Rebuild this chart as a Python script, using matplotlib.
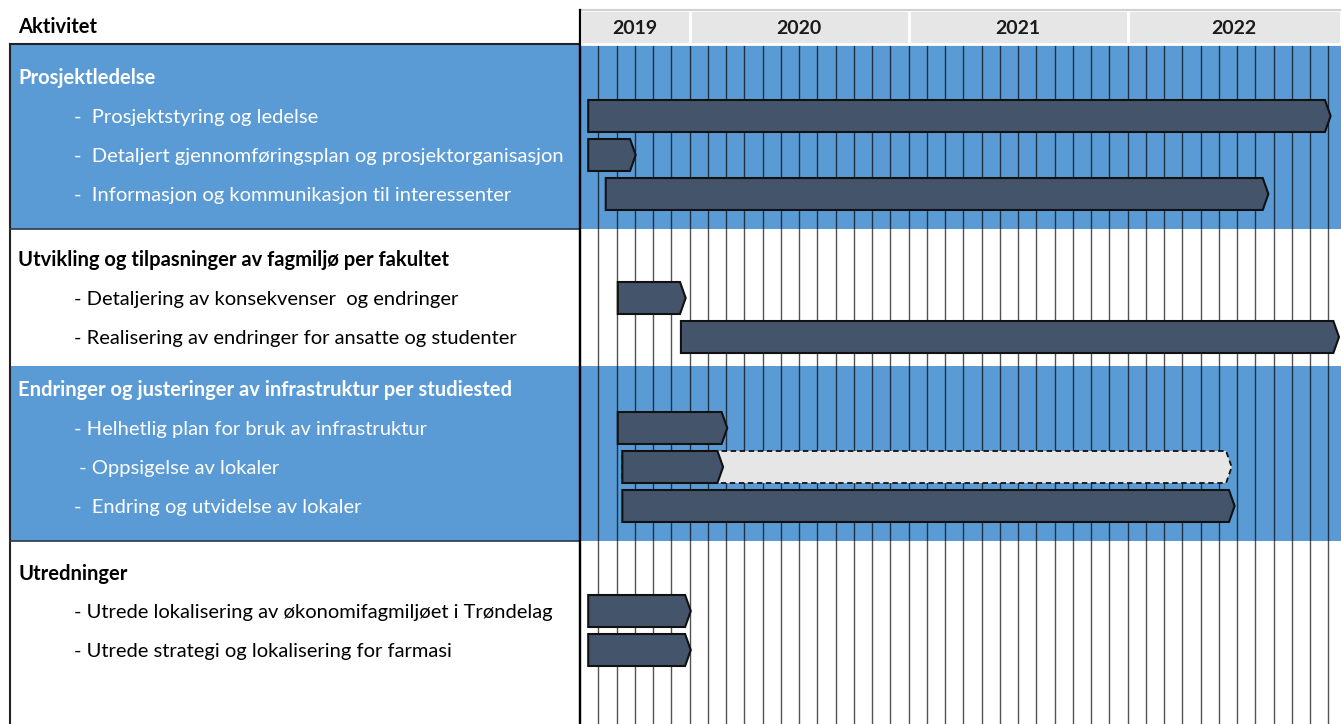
import matplotlib.pyplot as plt
from matplotlib.patches import Polygon, Rectangle

plt.rcParams['font.family'] = ['Lato', 'DejaVu Sans']

# Activities, grouped in sections. Times are months counted from 1 July 2019.
sections = [
    "Prosjektledelse",
    "Utvikling og tilpasninger av fagmiljø per fakultet",
    "Endringer og justeringer av infrastruktur per studiested",
    "Utredninger",
]
section_items = [
    ["-  Prosjektstyring og ledelse",
     "-  Detaljert gjennomføringsplan og prosjektorganisasjon",
     "-  Informasjon og kommunikasjon til interessenter"],
    ["- Detaljering av konsekvenser  og endringer",
     "- Realisering av endringer for ansatte og studenter"],
    ["- Helhetlig plan for bruk av infrastruktur",
     " - Oppsigelse av lokaler",
     "-  Endring og utvidelse av lokaler"],
    ["- Utrede lokalisering av økonomifagmiljøet i Trøndelag",
     "- Utrede strategi og lokalisering for farmasi"],
]
section_starts = [
    [0.45, 0.45, 1.41],
    [2.07, 5.53],
    [2.07, 2.32, 2.32],
    [0.45, 0.45],
]
section_ends = [
    [41.13, 3.05, 37.72],
    [5.79, 41.59],
    [8.07, 7.84, 35.87],
    [6.07, 6.07],
]
# planned continuation (dashed) for "Oppsigelse av lokaler"
planned_item = (2, 1)
planned_end = 35.71

years = ["2019", "2020", "2021", "2022"]
year_months = [6, 12, 12, 12]

# colours
BLUE = "#5B9BD5"
BAR = "#44546A"
LIGHT = "#E7E6E6"
HEAD = "#E6E6E6"

# layout (pixels)
W, H = 1341, 724
X0 = 580          # left edge of timeline
TOP = 44          # top of body
MONTH_PX = 18.25
X_END = (W - X0) / MONTH_PX
title_y = [77, 259, 389, 572]
band_edges = [44, 229, 366, 541, 724]
ROW = 39
BAR_H = 32
TIP = 0.31
FS = 14.5
TXT_DY = 1.5

fig = plt.figure(figsize=(W / 100, H / 100), dpi=100)

ax_l = fig.add_axes([0, 0, X0 / W, (H - TOP) / H])
ax_l.set_xlim(0, X0)
ax_l.set_ylim(H, TOP)
ax_l.axis("off")

ax = fig.add_axes([X0 / W, 0, (W - X0) / W, (H - TOP) / H])
ax.set_xlim(0, X_END)
ax.set_ylim(H, TOP)
ax.axis("off")

ax_h = fig.add_axes([X0 / W, (H - TOP) / H, (W - X0) / W, 34 / H])
ax_h.set_xlim(0, X_END)
ax_h.set_ylim(0, 1)
ax_h.axis("off")

# header
fig.text(18 / W, 1 - 27 / H, "Aktivitet", fontsize=FS, fontweight="bold",
         va="center", ha="left")
pos = 0
for yr, n in zip(years, year_months):
    right = min(pos + n, X_END)
    ax_h.add_patch(Rectangle((pos, 0), right - pos, 1, facecolor=HEAD,
                             edgecolor="white", lw=2, clip_on=False))
    ax_h.text((pos + right) / 2, 0.47, yr, ha="center", va="center",
              fontsize=14, fontweight="bold", color="#1a1a1a")
    pos += n
ax_h.plot([0, X_END], [1, 1], color="#d0d0d0", lw=1.5, clip_on=False)

# section bands (every other one blue)
for i in range(len(sections)):
    if i % 2 == 0:
        y0, y1 = band_edges[i], band_edges[i + 1]
        ax.axhspan(y0, y1, color=BLUE, lw=0, zorder=0)
        ax_l.add_patch(Rectangle((10, y0), X0 - 10, y1 - y0, facecolor=BLUE,
                                 lw=0, zorder=0))

# month grid
for m in range(1, int(X_END) + 1):
    ax.axvline(m, color="black", alpha=0.68, lw=1, zorder=1)
ax.axvline(0, color="black", lw=1.6, zorder=3, clip_on=False)
fig.add_artist(plt.Line2D([X0 / W, X0 / W], [0, 1 - 10 / H], color="black",
                          lw=1.6))
# borders of the activity column
ax_l.plot([10, 10], [TOP, H], color="#222222", lw=1.5, clip_on=False)
ax_l.plot([10, X0], [TOP, TOP], color="#222222", lw=1.5, clip_on=False)
ax.plot([0, X_END], [TOP, TOP], color="#222222", lw=1.5, clip_on=False)
for e in (band_edges[1], band_edges[3]):
    ax_l.plot([10, X0], [e, e], color="#2b3a4a", lw=1.2)


def arrow_bar(axis, x0, x1, y, **kw):
    pts = [(x0, y - BAR_H / 2), (x1 - TIP, y - BAR_H / 2), (x1, y),
           (x1 - TIP, y + BAR_H / 2), (x0, y + BAR_H / 2)]
    axis.add_patch(Polygon(pts, closed=True, **kw))


for si, name in enumerate(sections):
    txt_col = "white" if si % 2 == 0 else "black"
    ax_l.text(18, title_y[si] + TXT_DY, name, fontsize=FS, fontweight="bold",
              color=txt_col, va="center", ha="left")
    for k, label in enumerate(section_items[si]):
        y = title_y[si] + ROW * (k + 1)
        ax_l.text(74, y + TXT_DY, label, fontsize=FS, color=txt_col,
                  va="center", ha="left")
        s, e = section_starts[si][k], section_ends[si][k]
        if (si, k) == planned_item:
            arrow_bar(ax, s, planned_end, y, facecolor=LIGHT,
                      edgecolor="#111111", lw=1.3, linestyle=(0, (3, 2)),
                      zorder=4)
        arrow_bar(ax, s, e, y, facecolor=BAR, edgecolor="#111111", lw=1.5,
                  zorder=5)

fig.savefig("out.png", dpi=100)
